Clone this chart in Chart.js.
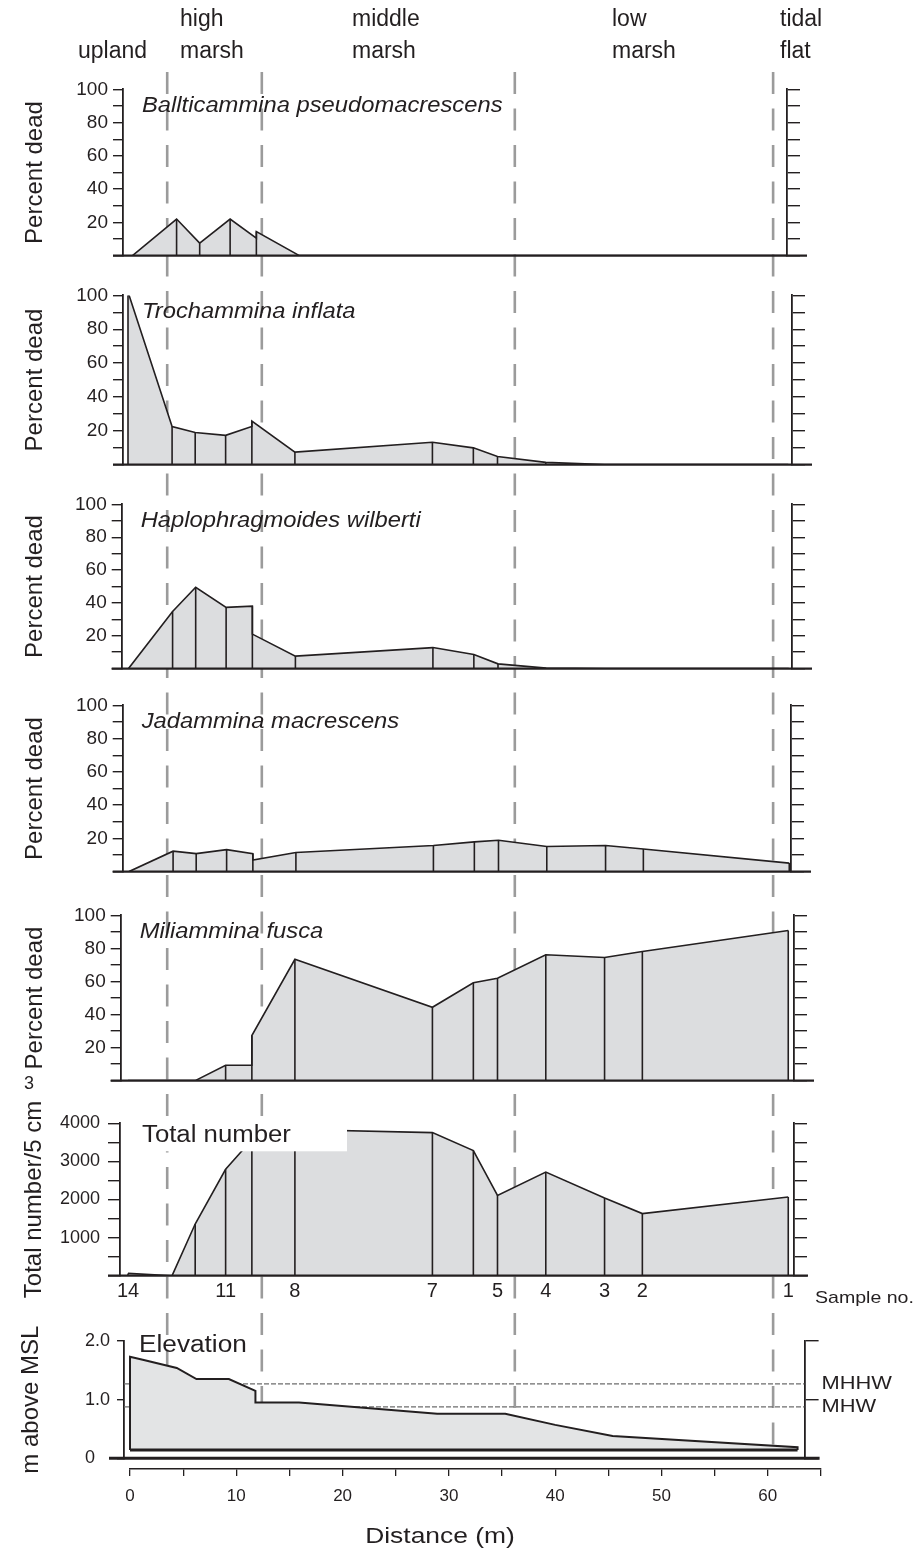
<!DOCTYPE html>
<html><head><meta charset="utf-8">
<script src="https://cdn.jsdelivr.net/npm/chart.js@4.4.1/dist/chart.umd.min.js"></script>
<style>
html,body{margin:0;padding:0;background:#fff;}
#page{position:relative;width:920px;height:1553px;overflow:hidden;font-family:Arial,"Liberation Sans",Helvetica,sans-serif;color:#231f20;}
#page canvas{position:absolute;left:0;}
.zone{position:absolute;font-size:23px;line-height:32px;white-space:nowrap;}
.note{position:absolute;white-space:nowrap;line-height:1;}
</style></head>
<body><div id="page"></div>
<script>
// ---------------- DATA ----------------
const sampleNo   = [14, 13, 12, 11, 10, 9, 8, 7, 6, 5, 4, 3, 2, 1];
const sampleDist = [0, 4.2, 6.4, 9.3, 11.8, 11.8, 15.9, 29.0, 32.9, 35.2, 39.8, 45.4, 49.0, 62.9];
const balticammina     = [0, 22, 7.5, 22, 10.5, 14.5, 0, 0, 0, 0, 0, 0, 0, 0];
const trochammina      = [102, 22.5, 19, 17.3, 22.5, 25.7, 7.4, 13.2, 9.9, 4.8, 1.3, 0, 0, 0];
const haplophragmoides = [0, 34.8, 49.5, 37.3, 38, 21, 7.6, 12.8, 8.6, 2.9, 0.3, 0, 0, 0];
const jadammina        = [0, 12.3, 10.8, 13.2, 10.8, 7, 11.5, 15.7, 17.9, 18.9, 15.1, 15.7, 13.6, 5.1];
const miliammina       = [0, 0, 0, 9.3, 9.3, 27.3, 73.4, 44.4, 59.2, 62, 76.2, 74.5, 78.1, 90.9];
const totalNumber      = [61, 0, 1357, 2792, 3570, 3800, 3836, 3755, 3285, 2109, 2719, 2039, 1630, 2065];
const labelledSamples  = [14, 11, 8, 7, 5, 4, 3, 2, 1];
const speciesNames = ['Ballticammina pseudomacrescens', 'Trochammina inflata', 'Haplophragmoides wilberti', 'Jadammina macrescens', 'Miliammina fusca'];
const speciesValues = [balticammina, trochammina, haplophragmoides, jadammina, miliammina];
const elevDist = [0, 1.2, 4.4, 6.25, 9.3, 11.8, 11.8, 15.9, 28.9, 35.3, 40.0, 45.4, 62.8];
const elevM    = [1.73, 1.68, 1.54, 1.35, 1.35, 1.15, 0.95, 0.95, 0.76, 0.76, 0.57, 0.38, 0.19];
const elevBase = 0.14;
const tideNames  = ['MHHW', 'MHW'];
const tideLevels = [1.27, 0.877];
const zoneBounds = [3.5, 12.4, 36.2, 60.5];
const zoneNames  = [['upland'], ['high', 'marsh'], ['middle', 'marsh'], ['low', 'marsh'], ['tidal', 'flat']];
const pctTickLabels = [20, 40, 60, 80, 100];
const totalTickLabels = [1000, 2000, 3000, 4000];
const elevTickLabels = [0, 1, 2];

// ---------------- STYLE / LAYOUT ----------------
const C = '#231f20';
const FILL = '#dcdddf';
const FONT = 'Arial, "Liberation Sans", Helvetica, sans-serif';
Chart.defaults.font.family = FONT;
Chart.defaults.color = C;
const page = document.getElementById('page');
const zoneLabelLeft = [78, 180, 352, 612, 780];
const pctLayout = [
  {top: 89.3, bottom: 265.7, left: 123, right: 787, x0: 132.5},
  {top: 295, bottom: 474.3, left: 123, right: 792, x0: 128},
  {top: 504, bottom: 678.3, left: 121.7, right: 792, x0: 128.5},
  {top: 705, bottom: 881.7, left: 122.7, right: 791, x0: 129},
  {top: 915, bottom: 1090.7, left: 120.7, right: 794, x0: 128}
];
const UPPER_X0 = 128, UPPER_PPM = 10.497;
const LOW_X0 = 130, LOW_PPM = 10.63;
const RIGHT_W = 30;

function addCanvas(top, height) {
  const c = document.createElement('canvas');
  c.width = 920; c.height = height;
  c.style.top = top + 'px';
  page.appendChild(c);
  return c;
}
function pts(xs, ys) { return xs.map((x, i) => ({x: x, y: ys[i]})); }
function stems(xs, ys) {
  const out = [];
  xs.forEach((x, i) => { if (ys[i] > 0) out.push({x: x, y: 0}, {x: x, y: ys[i]}, {x: x, y: null}); });
  return out;
}
// text drawn slightly wide, like the lettering of the original figure
function sText(ctx, text, x, y, font, sx, align) {
  ctx.save();
  ctx.font = font; ctx.fillStyle = C; ctx.textBaseline = 'middle'; ctx.textAlign = align || 'left';
  ctx.translate(x, y); ctx.scale(sx, 1);
  ctx.fillText(text, 0, 0);
  ctx.restore();
}

// ---------------- UNDERLAY: zone boundaries + distance axis ----------------
(function () {
  const DASH_TOP = 72, DASH_BOTTOM = 1450, AXIS_Y = 1469;
  const cv = addCanvas(0, 1553);
  new Chart(cv, {
    type: 'line',
    data: {datasets: zoneBounds.map(d => ({
      data: [{x: d, y: 1}, {x: d, y: 0}], borderColor: '#9b9b9b', borderWidth: 2.6,
      borderDash: [22, 14.5], pointRadius: 0, fill: false
    }))},
    options: {
      responsive: false, animation: false, events: [],
      layout: {padding: {left: LOW_X0, right: 920 - LOW_X0 - 65 * LOW_PPM, top: DASH_TOP, bottom: 0}},
      plugins: {legend: {display: false}, tooltip: {enabled: false}},
      scales: {
        x: {type: 'linear', min: 0, max: 65, position: 'bottom',
          afterFit(s) { s.height = 1553 - AXIS_Y; },
          ticks: {stepSize: 5, autoSkip: false, maxRotation: 0, callback: v => (v % 10 === 0 ? String(v) : ''), font: {size: 17}, color: C, padding: 10},
          grid: {drawOnChartArea: false, drawTicks: true, tickLength: 7, color: C, lineWidth: 1.3},
          border: {display: true, color: C, width: 1.6}
        },
        y: {type: 'linear', display: false, min: -(AXIS_Y - DASH_BOTTOM) / (DASH_BOTTOM - DASH_TOP), max: 1}
      }
    },
    plugins: [{
      id: 'distTitle',
      afterDraw(chart) { sText(chart.ctx, 'Distance (m)', 440, 1537, '22px ' + FONT, 1.2, 'center'); }
    }]
  });
})();

// zone labels
zoneNames.forEach((lines, i) => {
  const d = document.createElement('div');
  d.className = 'zone';
  d.style.left = zoneLabelLeft[i] + 'px';
  d.style.top = (lines.length === 1 ? 34 : 2) + 'px';
  d.innerHTML = lines.join('<br>');
  page.appendChild(d);
});

// ---------------- PANEL BUILDER ----------------
function buildPanel(o) {
  const PADT = o.above || 16;
  const top = Math.floor(o.top - PADT);
  const padTop = o.top - top;
  const h = Math.ceil(o.bottom + o.below - top);
  const padBottom = h - padTop - (o.bottom - o.top);
  const cv = addCanvas(top, h);
  const xMin = (o.left - o.x0) / o.ppm;
  const xMax = (o.right - o.x0) / o.ppm;
  const titleLH = o.titleSize * 1.2;
  const xScale = {type: 'linear', min: xMin, max: xMax, display: false};
  if (o.xTicks) {
    Object.assign(xScale, o.xTicks, {display: true});
    xScale.afterFit = s => { s.height = padBottom; };
  }
  new Chart(cv, {
    type: 'line',
    data: {datasets: o.datasets(xMin, xMax)},
    options: {
      responsive: false, animation: false, events: [],
      layout: {padding: {left: 0, right: 920 - o.right - RIGHT_W, top: padTop, bottom: o.xTicks ? 0 : padBottom}},
      plugins: {legend: {display: false}, tooltip: {enabled: false}},
      scales: {
        x: xScale,
        y: {type: 'linear', position: 'left', min: 0, max: o.ymax,
          afterFit(s) { s.width = o.left; },
          ticks: {stepSize: o.step, autoSkip: false, callback: o.yLabel, font: {size: o.tickSize}, color: C, padding: o.tickPad},
          grid: {drawOnChartArea: false, drawTicks: true, tickLength: o.tickLen, color: C, lineWidth: 1.4},
          border: {display: true, color: C, width: 1.8},
          title: {display: true, text: o.yTitle, font: {size: o.titleSize}, color: C, padding: {top: o.titleX - titleLH / 2, bottom: 0}}
        },
        y2: {type: 'linear', position: 'right', min: 0, max: o.ymax,
          afterFit(s) { s.width = RIGHT_W; },
          ticks: {display: false, stepSize: o.step, autoSkip: false},
          grid: {drawOnChartArea: false, drawTicks: true, tickLength: o.rightTickLen, color: C, lineWidth: 1.4},
          border: {display: true, color: C, width: 1.8}
        }
      }
    },
    plugins: [{
      id: 'decor',
      afterDatasetsDraw(chart) {
        const ctx = chart.ctx, a = chart.chartArea, ys = chart.scales.y;
        ctx.save();
        const y0 = ys.getPixelForValue(0);
        ctx.strokeStyle = C; ctx.lineWidth = o.baseWidth;
        ctx.beginPath(); ctx.moveTo(a.left - o.baseExt[0], y0); ctx.lineTo(a.right + o.baseExt[1], y0); ctx.stroke();
        if (o.decor) o.decor(chart, ctx, a);
        ctx.restore();
      }
    }]
  });
}

function profileSets(xs, ys) {
  return () => [
    {data: stems(xs, ys), borderColor: C, borderWidth: 1.6, pointRadius: 0, fill: false, spanGaps: false, order: 1},
    {data: pts(xs, ys), borderColor: C, borderWidth: 1.6, pointRadius: 0, fill: 'origin', backgroundColor: FILL, order: 2}
  ];
}

// ---------------- PERCENT-DEAD PANELS ----------------
speciesValues.forEach((vals, i) => {
  const L = pctLayout[i];
  buildPanel({
    top: L.top, bottom: L.bottom, left: L.left, right: L.right, below: 6,
    x0: L.x0, ppm: UPPER_PPM, ymax: 100, step: 10,
    yLabel: v => (pctTickLabels.includes(v) ? String(v) : ''),
    tickSize: 19, tickPad: 5, tickLen: 10, rightTickLen: 13,
    yTitle: 'Percent dead', titleSize: 24, titleX: 35,
    baseWidth: 2.2, baseExt: [10, 20],
    datasets: profileSets(sampleDist, vals),
    decor(chart, ctx, a) {
      sText(ctx, speciesNames[i], a.left + 19, a.top + 16, 'italic 22px ' + FONT, 1.08);
    }
  });
});

// ---------------- TOTAL NUMBER PANEL ----------------
buildPanel({
  top: 1123.3, bottom: 1275.7, left: 120, right: 794, above: 42, below: 34,
  x0: UPPER_X0, ppm: UPPER_PPM, ymax: 4000, step: 500,
  yLabel: v => (totalTickLabels.includes(v) ? String(v) : ''),
  tickSize: 18, tickPad: 8, tickLen: 12, rightTickLen: 13,
  yTitle: 'Total number/5 cm', titleSize: 24, titleX: 34,
  baseWidth: 2.2, baseExt: [12, 14],
  xTicks: {
    position: 'bottom',
    afterBuildTicks(s) { s.ticks = labelledSamples.map(n => ({value: sampleDist[sampleNo.indexOf(n)]})); },
    ticks: {autoSkip: false, maxRotation: 0, callback: (v, i) => String(labelledSamples[i]), font: {size: 20}, color: C, padding: 4},
    grid: {drawOnChartArea: false, drawTicks: false},
    border: {display: false}
  },
  datasets: profileSets(sampleDist, totalNumber),
  decor(chart, ctx, a) {
    ctx.fillStyle = '#fff';
    ctx.fillRect(a.left + 18, a.top + 2, 209, 26);
    sText(ctx, 'Total number', a.left + 22, a.top + 12, '23px ' + FONT, 1.12);
  }
});

// ---------------- ELEVATION PANEL ----------------
buildPanel({
  top: 1341, bottom: 1458.3, left: 124, right: 804.6, above: 20, below: 26,
  x0: LOW_X0, ppm: LOW_PPM, ymax: 2, step: 1,
  yLabel: v => (elevTickLabels.includes(v) ? (v === 0 ? '0\u2007 ' : v.toFixed(1)) : ''),
  tickSize: 18, tickPad: 7, tickLen: 7, rightTickLen: 14,
  yTitle: 'm above MSL', titleSize: 24, titleX: 31,
  baseWidth: 3, baseExt: [15, 15],
  datasets: (xMin, xMax) => {
    const sets = tideLevels.map(l => ({
      data: [{x: xMin, y: l}, {x: xMax, y: l}], borderColor: '#6d6d6d', borderWidth: 1.2,
      borderDash: [5, 2], pointRadius: 0, fill: false, order: 3
    }));
    const prof = [{x: elevDist[0], y: elevBase}].concat(pts(elevDist, elevM), [{x: elevDist[elevDist.length - 1], y: elevBase}]);
    sets.push({data: prof, borderColor: C, borderWidth: 2, pointRadius: 0, fill: {value: elevBase}, backgroundColor: '#e3e4e5', order: 2});
    sets.push({data: [{x: elevDist[0], y: elevBase}, {x: elevDist[elevDist.length - 1], y: elevBase}], borderColor: C, borderWidth: 3, pointRadius: 0, fill: false, order: 1});
    return sets;
  },
  decor(chart, ctx, a) {
    const ys = chart.scales.y;
    sText(ctx, 'Elevation', a.left + 15, a.top + 5, '23px ' + FONT, 1.14);
    tideNames.forEach((n, i) => sText(ctx, n, a.right + 17, ys.getPixelForValue(tideLevels[i]), '19px ' + FONT, 1.15));
  }
});

// unit superscript of the total-number axis title, and the sample caption
const sup = document.createElement('div');
sup.className = 'note';
sup.style.left = '24px'; sup.style.top = '1074px'; sup.style.fontSize = '18px';
sup.textContent = '3';
page.appendChild(sup);
const sn = document.createElement('div');
sn.className = 'note';
sn.style.left = '815px'; sn.style.top = '1289px'; sn.style.fontSize = '17px';
sn.style.transform = 'scaleX(1.15)'; sn.style.transformOrigin = 'left center';
sn.textContent = 'Sample no.';
page.appendChild(sn);
</script></body></html>
